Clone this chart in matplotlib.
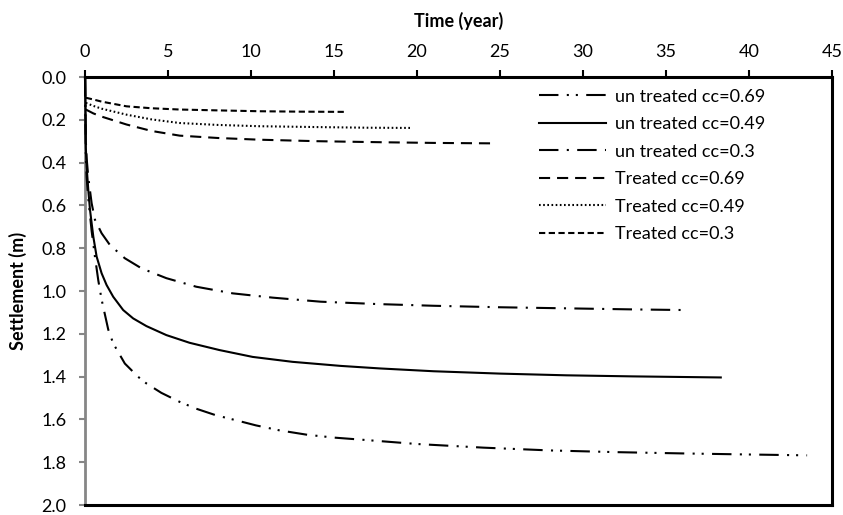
import matplotlib
matplotlib.use("Agg")
import matplotlib.pyplot as plt

plt.rcParams['font.family'] = ['Lato', 'DejaVu Sans']
plt.rcParams['lines.scale_dashes'] = False

# Data (time in years, settlement in m)
t_u069 = [0, 0.05, 0.1, 0.2, 0.4, 0.6, 0.8, 1.0, 1.4, 1.7, 2.4, 3.2, 3.7, 4.6, 5.7, 6.7, 7.9, 9.1, 10.3, 11.7, 13.4, 15.0, 17.2, 20, 24, 28, 32, 36, 40, 43.5]
s_u069 = [0, 0.38, 0.47, 0.57, 0.72, 0.84, 0.95, 1.04, 1.18, 1.245, 1.339, 1.401, 1.432, 1.476, 1.518, 1.55, 1.581, 1.604, 1.628, 1.651, 1.672, 1.685, 1.698, 1.715, 1.732, 1.745, 1.753, 1.759, 1.764, 1.768]

t_u049 = [0, 0.05, 0.1, 0.2, 0.3, 0.5, 0.7, 1.0, 1.3, 1.7, 2.3, 2.9, 3.7, 4.9, 6.3, 8.1, 10.1, 12.5, 15.4, 17.8, 21, 25, 29, 33, 38.3]
s_u049 = [0, 0.33, 0.42, 0.53, 0.62, 0.746, 0.839, 0.917, 0.972, 1.027, 1.089, 1.128, 1.164, 1.206, 1.242, 1.276, 1.308, 1.331, 1.35, 1.362, 1.375, 1.386, 1.394, 1.399, 1.404]

t_u030 = [0, 0.05, 0.1, 0.2, 0.4, 0.6, 1.0, 1.5, 2.4, 3.4, 4.9, 6.7, 8.9, 11.3, 14.2, 17.6, 21, 25, 29, 33, 36.1]
s_u030 = [0, 0.30, 0.38, 0.47, 0.59, 0.667, 0.73, 0.785, 0.847, 0.894, 0.94, 0.98, 1.011, 1.031, 1.05, 1.061, 1.069, 1.076, 1.081, 1.086, 1.089]

t_t069 = [0.05, 0.5, 1, 2.5, 4, 5.7, 8, 10.5, 14, 18, 21, 24.4]
s_t069 = [0.152, 0.17, 0.185, 0.222, 0.252, 0.274, 0.285, 0.293, 0.300, 0.305, 0.308, 0.310]

t_t049 = [0.05, 0.5, 1, 2.5, 4, 5.7, 8, 10.5, 14, 17, 19.6]
s_t049 = [0.121, 0.135, 0.148, 0.176, 0.198, 0.215, 0.224, 0.230, 0.234, 0.237, 0.238]

t_t030 = [0.05, 0.5, 1, 2.5, 4, 5.7, 8, 10.5, 13, 15.7]
s_t030 = [0.097, 0.105, 0.115, 0.137, 0.146, 0.152, 0.156, 0.160, 0.162, 0.163]

labels = ["un treated cc=0.69", "un treated cc=0.49", "un treated cc=0.3",
          "Treated cc=0.69", "Treated cc=0.49", "Treated cc=0.3"]

xticks = [0, 5, 10, 15, 20, 25, 30, 35, 40, 45]
yticks = [0.0, 0.2, 0.4, 0.6, 0.8, 1.0, 1.2, 1.4, 1.6, 1.8, 2.0]

W, H = 843, 515
fig = plt.figure(figsize=(W/100, H/100), dpi=100)
ax = fig.add_axes([85/W, 1-505/H, (832-85)/W, (505-77)/H])

lw = 1.5
kw = dict(color='black', lw=lw, zorder=3, clip_on=False)
ax.plot(t_u069, s_u069, dashes=(14, 6, 1.5, 5, 1.5, 6), label=labels[0], **kw)
ax.plot(t_u049, s_u049, label=labels[1], **kw)
ax.plot(t_u030, s_u030, dashes=(14, 6, 1.5, 6), label=labels[2], **kw)
ax.plot(t_t069, s_t069, dashes=(8, 5), label=labels[3], **kw)
ax.plot(t_t049, s_t049, dashes=(1.2, 1.8), label=labels[4], **kw)
ax.plot(t_t030, s_t030, dashes=(4.5, 2.5), label=labels[5], **kw)

ax.set_xlim(0, 45)
ax.set_ylim(2.0, 0.0)
ax.set_xticks(xticks)
ax.set_xticklabels([str(v) for v in xticks])
ax.set_yticks(yticks)
ax.set_yticklabels([f"{v:.1f}" for v in yticks])

ax.xaxis.tick_top()
ax.xaxis.set_label_position('top')
ax.tick_params(axis='x', direction='out', length=5, width=1.5, color='black', labelsize=13, pad=7.5)
ax.tick_params(axis='y', direction='out', length=4.5, width=1.5, color='#868686', labelsize=13, pad=9)

for side in ['top', 'bottom', 'right']:
    ax.spines[side].set_color('black')
    ax.spines[side].set_linewidth(2.2)
ax.spines['left'].set_color('#868686')
ax.spines['left'].set_linewidth(2.0)

ax.set_xlabel("Time (year)", fontsize=13, fontweight='bold')
ax.set_ylabel("Settlement (m)", fontsize=13, fontweight='bold')
ax.xaxis.set_label_coords(0.5, 1 + (77 - 27) / 428)
ax.yaxis.set_label_coords((27 - 85) / 747, 0.5)

leg = ax.legend(loc='upper left', frameon=False, fontsize=13, handlelength=3.7,
                handletextpad=0.5, labelspacing=0.64, borderpad=0, borderaxespad=0,
                bbox_to_anchor=((539 - 85) / 747, 0.973))

fig.savefig("out.png", dpi=100)
